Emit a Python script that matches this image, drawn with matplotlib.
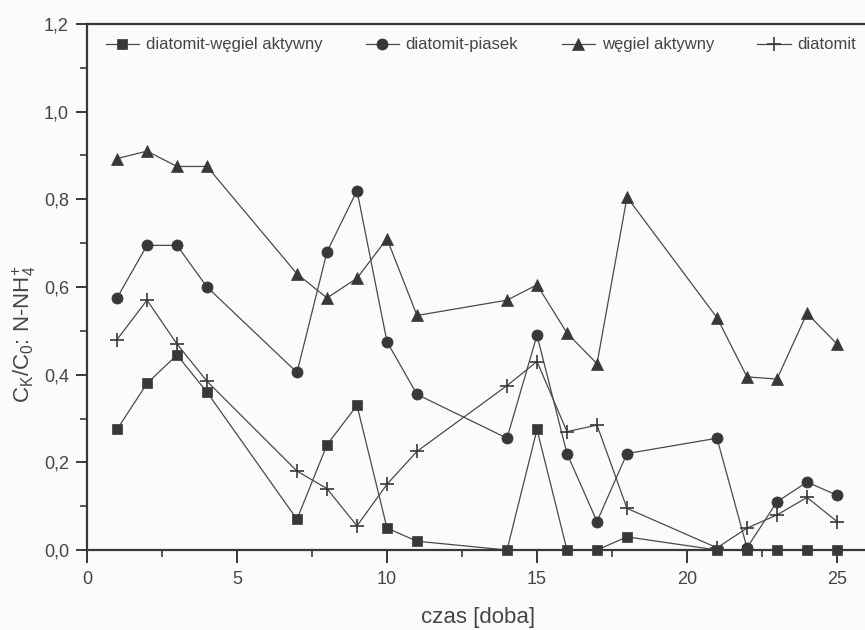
import matplotlib
matplotlib.use('Agg')
import matplotlib.pyplot as plt
from matplotlib.ticker import MultipleLocator, FuncFormatter

plt.rcParams['font.family'] = ['Liberation Sans', 'DejaVu Sans']

# -- data --------------------------------------------------------------------
days = [1, 2, 3, 4, 7, 8, 9, 10, 11, 14, 15, 16, 17, 18, 21, 22, 23, 24, 25]

dw_aktywny = [0.275, 0.38, 0.445, 0.36, 0.07, 0.24, 0.33, 0.05, 0.02, 0.0,
              0.275, 0.0, 0.0, 0.03, 0.0, 0.0, 0.0, 0.0, 0.0]
dw_piasek = [0.575, 0.695, 0.695, 0.60, 0.405, 0.68, 0.82, 0.475, 0.355, 0.255,
             0.49, 0.22, 0.065, 0.22, 0.255, 0.005, 0.11, 0.155, 0.125]
wegiel = [0.893, 0.91, 0.875, 0.875, 0.63, 0.575, 0.62, 0.71, 0.535, 0.57,
          0.605, 0.495, 0.425, 0.805, 0.53, 0.395, 0.39, 0.54, 0.47]
diatomit = [0.48, 0.57, 0.47, 0.385, 0.18, 0.14, 0.055, 0.15, 0.225, 0.375,
            0.43, 0.27, 0.285, 0.095, 0.005, 0.05, 0.08, 0.12, 0.065]

labels = ['diatomit-węgiel aktywny', 'diatomit-piasek', 'węgiel aktywny', 'diatomit']

INK = '#383838'
LINE = '#4a4a4a'
TXT = '#454545'

fig = plt.figure(figsize=(8.65, 6.3), dpi=100, facecolor='#fbfbfb')
ax = fig.add_axes([87 / 865, 80 / 630, 780 / 865, 526 / 630])
ax.set_facecolor('#fbfbfb')

series = [(dw_aktywny, 's', 7.5), (dw_piasek, 'o', 8),
          (wegiel, '^', 8.5), (diatomit, '+', 10)]
for (vals, mk, ms), lab in zip(series, labels):
    ax.plot(days, vals, color=LINE, lw=0.9, marker=mk, ms=ms,
            mew=1.2 if mk == '+' else 0.5, mfc=INK, mec=INK, label=lab,
            clip_on=False)

ax.set_xlim(0, 26)
ax.set_ylim(0, 1.2)
ax.xaxis.set_major_locator(MultipleLocator(5))
ax.xaxis.set_minor_locator(MultipleLocator(2.5))
ax.yaxis.set_major_locator(MultipleLocator(0.2))
ax.yaxis.set_minor_locator(MultipleLocator(0.1))
ax.yaxis.set_major_formatter(FuncFormatter(lambda v, p: f'{v:.1f}'.replace('.', ',')))

ax.spines['right'].set_visible(False)
for s in ['left', 'bottom', 'top']:
    ax.spines[s].set_color(INK)
    ax.spines[s].set_linewidth(1.6)

ax.tick_params(which='major', direction='out', length=8, width=1.4, color=INK,
               labelcolor=TXT, labelsize=13)
ax.tick_params(which='minor', direction='out', length=5, width=1.2, color=INK)
ax.tick_params(axis='x', which='major', length=9, pad=6)
ax.tick_params(axis='y', which='major', pad=5)

ax.set_xlabel('czas [doba]', fontsize=16, color=TXT, va='center')
ax.xaxis.set_label_coords(0.501, -0.128)
ax.set_ylabel(r'C$_\mathregular{K}$/C$_\mathregular{0}$: N-NH$_\mathregular{4}^\mathregular{+}$',
              fontsize=16, color=TXT, va='center')
ax.yaxis.set_label_coords(-0.08, 0.41)

leg = ax.legend(loc='upper center', ncol=4, frameon=False, fontsize=12,
                handlelength=2.0, handletextpad=0.4, columnspacing=2.6,
                bbox_to_anchor=(0.505, 1.0), borderaxespad=0.4)
for t in leg.get_texts():
    t.set_color(TXT)

fig.savefig('out.png', dpi=100, facecolor=fig.get_facecolor())
